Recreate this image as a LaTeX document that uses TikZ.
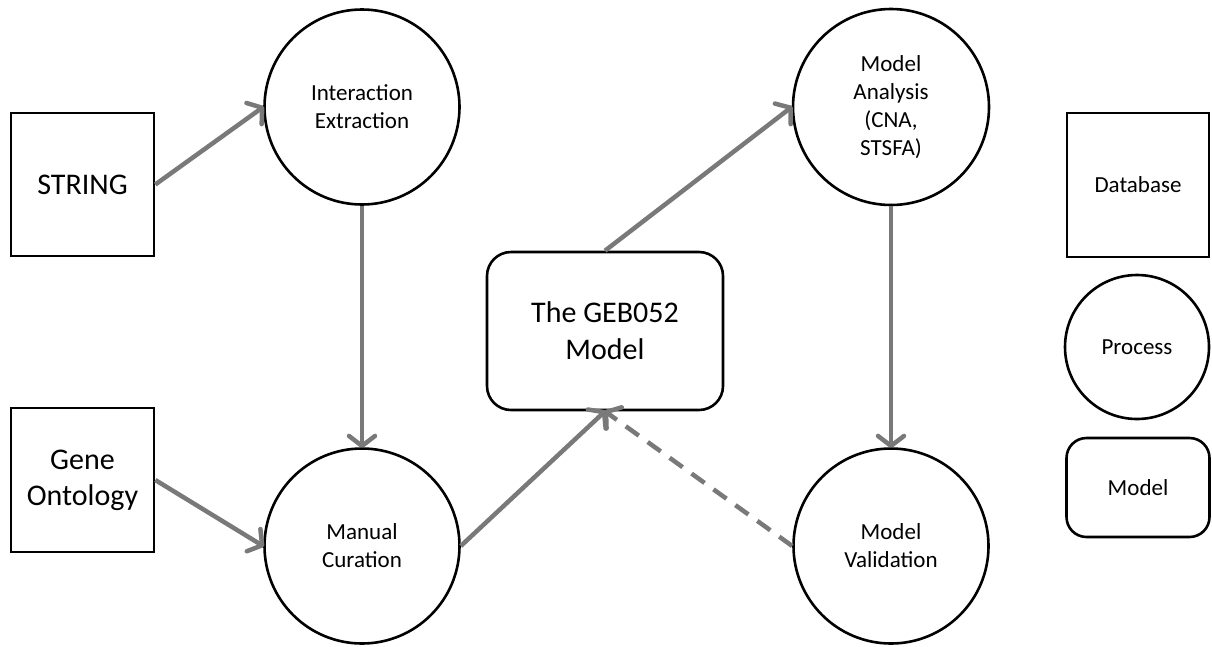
\documentclass[tikz,border=0pt]{standalone}
\usepackage{fontspec}
\setmainfont{Carlito}
\usetikzlibrary{arrows.meta}
\begin{document}
\begin{tikzpicture}[x=1pt,y=-1pt,
  box/.style={draw=black,line width=2.6pt,rectangle,align=center,inner sep=0pt},
  proc/.style={draw=black,line width=2.6pt,circle,align=center,inner sep=0pt,font=\fontsize{23}{28}\selectfont},
  modl/.style={draw=black,line width=2.6pt,rectangle,rounded corners=24pt,align=center,inner sep=0pt},
  flow/.style={draw=gray!95!black,line width=4.5pt,-{Straight Barb[length=10pt,width=26pt,line cap=round,line join=round]},shorten >=-1pt},
  dflow/.style={flow,dash pattern=on 16pt off 11pt}
]
\useasboundingbox (0,0) rectangle (1212,646);
\node[box,minimum width=143pt,minimum height=143pt,font=\fontsize{30}{36}\selectfont] (string) at (82.5,184.5) {STRING};
\node[box,minimum width=143pt,minimum height=144pt,font=\fontsize{30}{36}\selectfont] (go) at (82.5,480) {Gene\\Ontology};
\node[proc,minimum size=195pt] (ie) at (362,107) {Interaction\\Extraction};
\node[proc,minimum size=195pt] (mc) at (362,546) {Manual\\Curation};
\node[modl,minimum width=236pt,minimum height=158pt,font=\fontsize{30}{37}\selectfont] (geb) at (605,331) {The GEB052\\Model};
\node[proc,minimum size=196pt] (ma) at (891,107) {Model\\Analysis\\(CNA,\\STSFA)};
\node[proc,minimum size=195pt] (mv) at (891,546) {Model\\Validation};
\node[box,minimum width=142pt,minimum height=144pt,font=\fontsize{23}{28}\selectfont] (db) at (1138,185) {Database};
\node[proc,minimum size=144pt] (pr) at (1137,347) {Process};
\node[modl,minimum width=143pt,minimum height=99pt,rounded corners=20pt,font=\fontsize{23}{28}\selectfont] (md) at (1138,487.5) {Model};
\draw[flow] (string.east) -- (ie.west);
\draw[flow] (ie.south) -- (mc.north);
\draw[flow] (go.east) -- (mc.west);
\draw[flow] (mc.east) -- (geb.south);
\draw[flow] (geb.north) -- (ma.west);
\draw[flow] (ma.south) -- (mv.north);
\draw[dflow] (mv.west) -- (geb.south);
\end{tikzpicture}
\end{document}
